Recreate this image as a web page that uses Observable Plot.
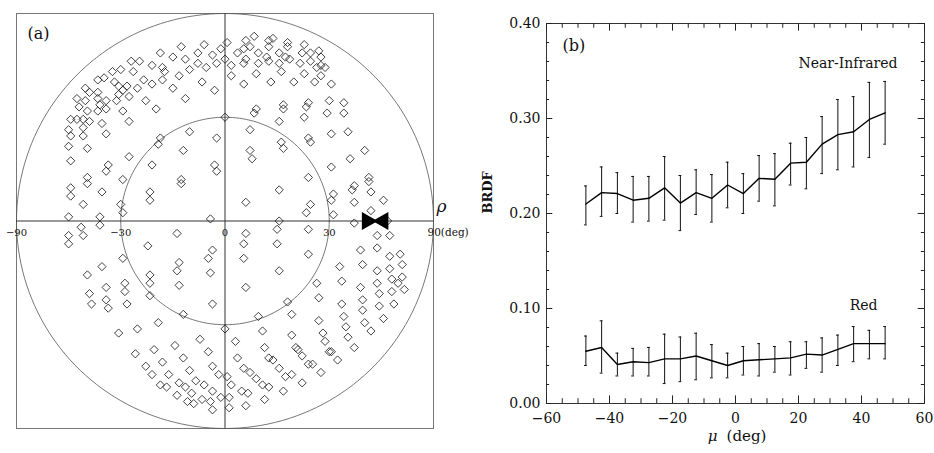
<!DOCTYPE html>
<html><head><meta charset="utf-8">
<script src="https://cdn.jsdelivr.net/npm/d3@7"></script>
<script src="https://cdn.jsdelivr.net/npm/@observablehq/plot@0.6"></script>
<style>
body{margin:0;background:#fff;}
#wrap{position:relative;width:934px;height:453px;overflow:hidden;background:#fff;}
#a,#b{position:absolute;top:0;}
#a{left:0;width:460px;} #b{left:460px;width:474px;}
svg{overflow:visible;}
</style></head><body><div id="wrap"><div id="a"></div><div id="b"></div></div>
<script>
// ---------- Panel (a): viewing geometry (projected coords, % of horizon radius) ----------
const viewPoints = [
[-21,84],[-10,85],[-2,83],[-13,81],[-6,80],[-31,81],[-25,79],[-19,78],[-13,76],[-17,73],[-9,74],[-4,76],[-45,77],[-41,77],[-35,75],[-30,74],[-29,72],[-22,70],[-30,68],[-50,73],[-44,72],[-54,72],[-39,68],[-42,64],[-35,66],[-25,64],[-19,59],[-11,67],[-5,63],[-61,68],[-58,69],[-53,67],[-51,65],[-47,65],[-49,63],[-51,61],[-46,60],[-52,58],[-38,58],[-33,54],[-67,64],[-65,62],[-61,62],[-71,59],[-67,58],[-61,59],[-57,58],[-60,56],[-57,54],[-61,53],[-66,53],[-70,55],[-49,53],[-74,49],[-71,49],[-68,49],[-65,48],[-59,47],[-68,45],[-46,48],[-75,44],[-74,41],[-68,41],[-57,42],[-75,36],[-66,35],[-31,40],[-32,37],[-17,43],[-20,34],[-4,40],[0,50],
[1,86],[0,78],[10,87],[14,89],[12,84],[9,83],[6,81],[3,75],[10,78],[9,76],[3,70],[16,81],[16,76],[15,71],[21,87],[23,88],[21,84],[20,79],[21,77],[26,81],[26,76],[27,72],[30,86],[30,84],[29,79],[31,78],[38,85],[37,81],[36,76],[38,71],[41,77],[41,81],[45,82],[46,79],[46,75],[48,74],[44,74],[46,70],[43,67],[51,66],[33,67],[22,67],[9,66],[15,54],[14,52],[28,56],[28,54],[40,57],[39,55],[50,58],[49,52],[57,57],[57,52],[38,50],[26,48],[12,44],[27,38],[28,35],[40,40],[41,38],[51,42],[59,43],[12,34],[67,34],
[-74,29],[-56,27],[-57,24],[-46,31],[-35,27],[-66,21],[-66,18],[-74,16],[-74,12],[-59,14],[-68,8],[-49,20],[-50,8],[-49,4],[-36,14],[-36,10],[-75,2],[-60,2],[-60,-2],[-69,-3],[-68,-7],[-75,-7],[-75,-11],[-21,20],[-21,18],[-5,27],[-4,24],[-7,1],[-23,-6],[-37,-12],[-49,-18],[-59,-22],[-66,-26],[-57,-32],[-48,-30],[-36,-26],[-36,-30],[-22,-20],[-23,-24],[-22,-31],[-6,-14],[-8,-18],[-7,-25],
[13,30],[60,30],[51,26],[40,21],[26,15],[10,9],[69,21],[69,19],[62,17],[61,15],[70,14],[76,10],[62,9],[52,13],[51,10],[41,8],[39,4],[52,3],[70,5],[26,0],[25,-4],[40,-4],[62,-1],[78,0],[10,-6],[9,-11],[25,-11],[73,-7],[79,-7],[9,-18],[40,-16],[26,-24],[55,-22],[65,-14],[73,-13],[66,-21],[73,-24],[79,-17],[84,-16],[85,-21],[79,-23],[80,-28],[85,-27],[73,-30],[56,-29],[44,-30],[10,-32],[83,-30],[65,-32],
[-65,-35],[-64,-40],[-57,-38],[-56,-42],[-48,-34],[-47,-40],[-36,-36],[-6,-40],[-20,-45],[-32,-49],[-42,-52],[-51,-54],[-12,-57],[-8,-63],[-24,-60],[-34,-62],[-43,-64],[-20,-66],[-30,-68],[-38,-70],[-17,-72],[-6,-70],[-3,-74],[-27,-74],[-35,-74],[-31,-79],[-28,-80],[-22,-78],[-19,-80],[-14,-77],[-10,-79],[-6,-82],[-2,-85],[-23,-84],[-16,-83],[-18,-87],[-15,-88],[-11,-86],[-7,-87],[-6,-91],[0,-52],
[30,-39],[45,-37],[56,-40],[66,-38],[74,-35],[80,-34],[86,-33],[81,-40],[74,-41],[66,-43],[76,-47],[67,-49],[70,-53],[16,-46],[32,-45],[45,-48],[57,-46],[58,-51],[59,-56],[62,-61],[18,-53],[5,-58],[32,-55],[47,-54],[48,-58],[51,-63],[50,-63],[54,-67],[19,-61],[34,-61],[35,-62],[37,-65],[21,-66],[23,-67],[26,-71],[40,-69],[42,-69],[46,-73],[6,-66],[9,-71],[12,-73],[15,-76],[29,-75],[32,-74],[37,-78],[18,-79],[21,-80],[28,-82],[19,-86],[8,-82],[11,-83],[10,-89],[3,-79],[1,-75],[2,-85],[2,-90]
];
const sunPosition = [[72, 0]];
const zenithRings = [30, 90];
const polarTicks = [-90, -30, 0, 30];
const polarTickLabels = ["\u221290", "\u221230", "0", "30"];
const horizonLabel = "90(deg)";

// ---------- Panel (b): BRDF vs view angle ----------
const mu = [-47.5,-42.5,-37.5,-32.5,-27.5,-22.5,-17.5,-12.5,-7.5,-2.5,2.5,7.5,12.5,17.5,22.5,27.5,32.5,37.5,42.5,47.5];
const nirMean = [0.210,0.222,0.221,0.214,0.216,0.227,0.211,0.222,0.216,0.230,0.221,0.237,0.236,0.253,0.254,0.273,0.283,0.286,0.299,0.306];
const nirHi   = [0.229,0.249,0.243,0.239,0.239,0.260,0.240,0.246,0.241,0.254,0.242,0.261,0.263,0.274,0.280,0.302,0.320,0.323,0.338,0.339];
const nirLo   = [0.188,0.197,0.200,0.191,0.192,0.193,0.182,0.199,0.191,0.206,0.200,0.213,0.208,0.230,0.226,0.242,0.246,0.249,0.259,0.273];
const redMean = [0.055,0.059,0.041,0.044,0.043,0.047,0.047,0.050,0.045,0.040,0.045,0.046,0.047,0.048,0.052,0.051,0.057,0.063,0.063,0.063];
const redHi   = [0.071,0.087,0.053,0.058,0.059,0.073,0.070,0.074,0.062,0.053,0.060,0.063,0.060,0.065,0.065,0.069,0.072,0.081,0.077,0.081];
const redLo   = [0.040,0.032,0.029,0.029,0.029,0.021,0.023,0.025,0.027,0.027,0.030,0.029,0.033,0.030,0.037,0.033,0.040,0.044,0.047,0.047];
const yTicks = [0, 0.1, 0.2, 0.3, 0.4];
const xTicks = [-60, -40, -20, 0, 20, 40, 60];

const rad = Math.PI / 180;
const proj = d => Math.sin(d * rad) * 100;

// rings
const ringPts = [];
zenithRings.forEach(z => { for (let a = 0; a <= 360; a += 2) ringPts.push({ring: z, x: proj(z) * Math.cos(a * rad), y: proj(z) * Math.sin(a * rad)}); });

const font = "DejaVu Serif";
const plotA = Plot.plot({
  width: 460, height: 453,
  marginLeft: 16, marginRight: 27, marginTop: 13, marginBottom: 25,
  x: {domain: [-100, 100], axis: null},
  y: {domain: [-100, 100], axis: null},
  style: {fontFamily: font, background: "none", overflow: "visible"},
  marks: [
    Plot.frame({stroke: "#777", strokeWidth: 1}),
    Plot.line(ringPts, {x: "x", y: "y", z: "ring", stroke: "#555", strokeWidth: 0.8}),
    Plot.ruleX([0], {y1: -100, y2: 100, stroke: "#333", strokeWidth: 1}),
    Plot.ruleY([0], {x1: -100, x2: 100, stroke: "#333", strokeWidth: 1}),
    Plot.dot(viewPoints, {x: d => d[0], y: d => d[1], symbol: "diamond2", r: 3.7, stroke: "#111", strokeWidth: 0.8, fill: "none"}),
    Plot.dot(sunPosition, {x: d => d[0], y: d => d[1], symbol: "triangle", rotate: 90, r: 5.8, dx: -8, fill: "black", stroke: "black"}),
    Plot.dot(sunPosition, {x: d => d[0], y: d => d[1], symbol: "triangle", rotate: -90, r: 5.8, dx: 8, fill: "black", stroke: "black"}),
    Plot.text(polarTicks, {x: d => proj(d), y: 0, dy: 12, text: (d, i) => polarTickLabels[i], fontSize: 10, fill: "#111"}),
    Plot.text([horizonLabel], {x: 100, y: 0, dy: 12, dx: -6, textAnchor: "start", fontSize: 10.5, fill: "#111"}),
    Plot.text(["\u03c1"], {x: 100, y: 0, dx: 8, dy: -14, fontSize: 17, fontStyle: "italic", fill: "#111"}),
    Plot.text(["(a)"], {frameAnchor: "top-left", textAnchor: "start", lineAnchor: "middle", dx: 11, dy: 20, fontSize: 16, fill: "#111"})
  ]
});
document.getElementById("a").appendChild(plotA);

const rows = mu.map((m, i) => ({mu: m, nir: nirMean[i], nirHi: nirHi[i], nirLo: nirLo[i], red: redMean[i], redHi: redHi[i], redLo: redLo[i]}));
const yMinor = d3.range(0, 0.4001, 0.02);
const xMinor = d3.range(-60, 60.001, 5);
const cap = 0.45;

const plotB = Plot.plot({
  width: 474, height: 453,
  marginLeft: 86, marginRight: 10, marginTop: 23, marginBottom: 50,
  x: {domain: [-60, 60]},
  y: {domain: [0, 0.4]},
  style: {fontFamily: font, background: "none", overflow: "visible"},
  marks: [
    Plot.frame({stroke: "#333", strokeWidth: 1}),
    // ticks
    Plot.ruleY(yMinor, {y: d => d, x1: -60, x2: (d, i) => i % 5 === 0 ? -58 : -59, stroke: "#222"}),
    Plot.ruleY(yMinor, {y: d => d, x1: 60, x2: (d, i) => i % 5 === 0 ? 58 : 59, stroke: "#222"}),
    Plot.ruleX(xMinor, {x: d => d, y1: 0, y2: (d, i) => i % 4 === 0 ? 0.008 : 0.005, stroke: "#222"}),
    Plot.ruleX(xMinor, {x: d => d, y1: 0.4, y2: (d, i) => i % 4 === 0 ? 0.392 : 0.395, stroke: "#222"}),
    Plot.axisY(yTicks, {tickSize: 0, tickPadding: 6, tickFormat: d3.format(".2f"), label: null, fontSize: 14, fill: "#111"}),
    Plot.axisX(xTicks, {tickSize: 0, tickPadding: 10, label: null, fontSize: 14, fill: "#111"}),
    // error bars
    Plot.ruleX(rows, {x: "mu", y1: "nirLo", y2: "nirHi", stroke: "#111", strokeWidth: 1}),
    Plot.ruleY(rows, {y: "nirHi", x1: d => d.mu - cap, x2: d => d.mu + cap, stroke: "#111"}),
    Plot.ruleY(rows, {y: "nirLo", x1: d => d.mu - cap, x2: d => d.mu + cap, stroke: "#111"}),
    Plot.ruleX(rows, {x: "mu", y1: "redLo", y2: "redHi", stroke: "#111", strokeWidth: 1}),
    Plot.ruleY(rows, {y: "redHi", x1: d => d.mu - cap, x2: d => d.mu + cap, stroke: "#111"}),
    Plot.ruleY(rows, {y: "redLo", x1: d => d.mu - cap, x2: d => d.mu + cap, stroke: "#111"}),
    // means
    Plot.line(rows, {x: "mu", y: "nir", stroke: "#000", strokeWidth: 1.4}),
    Plot.line(rows, {x: "mu", y: "red", stroke: "#000", strokeWidth: 1.4}),
    // labels
    Plot.text(["BRDF"], {frameAnchor: "left", rotate: -90, dx: -59, fontSize: 13, fontWeight: "bold", fill: "#111"}),
    Plot.text(["\u03bc"], {frameAnchor: "bottom", dy: 37, dx: -23, fontSize: 15, fontStyle: "italic", fill: "#111"}),
    Plot.text(["(deg)"], {frameAnchor: "bottom", dy: 37, dx: 11, fontSize: 15, fill: "#111", style: "letter-spacing:1px"}),
    Plot.text(["(b)"], {frameAnchor: "top-left", textAnchor: "start", lineAnchor: "middle", dx: 16, dy: 22, fontSize: 16, fill: "#111"}),
    Plot.text(["Near-Infrared"], {frameAnchor: "top-right", textAnchor: "end", lineAnchor: "middle", dx: -27, dy: 40, fontSize: 14, fill: "#111", style: "letter-spacing:2px"}),
    Plot.text(["Red"], {frameAnchor: "top-right", textAnchor: "end", lineAnchor: "middle", dx: -47, dy: 282, fontSize: 14, fill: "#111"})
  ]
});
document.getElementById("b").appendChild(plotB);
</script>
</body></html>
